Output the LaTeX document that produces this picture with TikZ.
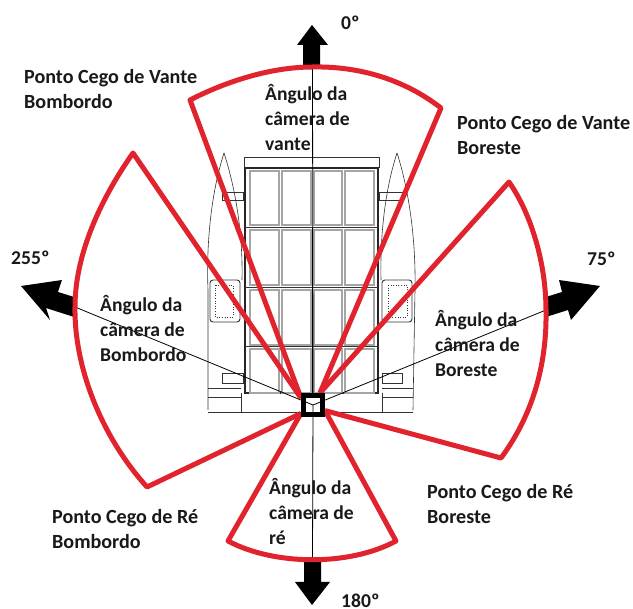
\documentclass[tikz,border=0pt]{standalone}
\usepackage{fontspec}
\setmainfont{Carlito}
\definecolor{redz}{RGB}{225,35,45}
\definecolor{panelgray}{RGB}{165,165,165}
\tikzset{
  sector/.style={draw=redz,line width=5pt,line join=round},
  thinline/.style={draw=black,line width=0.8pt},
  vanline/.style={draw=black!80,line width=0.6pt},
  panel/.style={draw=panelgray,line width=1.5pt},
  arrowshape/.style={fill=black,draw=none},
  lbl/.style={font=\bfseries\fontsize{19.6}{25}\selectfont,align=left,anchor=north west,inner sep=0pt,text=black!90},
  lblwide/.style={lbl,font=\bfseries\fontsize{20.1}{25}\selectfont},
  lblone/.style={font=\bfseries\fontsize{19.6}{25}\selectfont,anchor=north west,inner sep=0pt,text=black!90},
}
\begin{document}
\begin{tikzpicture}[x=1pt,y=-1pt]
\useasboundingbox (0,0) rectangle (633,609);
\fill[white] (0,0) rectangle (633,609);
% van
\draw[vanline] (244,168) -- (244,157) -- (379,157) -- (379,168);
\draw[black!85,line width=1.3pt] (245,168) rectangle (378,393);
\foreach \yy/\hh in {171/225,230/285,290/345,349/393}{
  \foreach \xa/\xb in {250/279,282/311,314/342,345/374}{
    \draw[panel] (\xa,\yy) rectangle (\xb,\hh);
  }
}
\draw[vanline,line width=1pt] (245,228) -- (378,228) (245,287.5) -- (378,287.5) (245,347) -- (378,347);
\draw[black,line width=1.5pt] (312.7,228) -- (312.7,393);
\draw[vanline] (224,153) .. controls (212,190) and (206,240) .. (208,290) -- (208,410);
\draw[vanline] (224,153) .. controls (236,190) and (243,235) .. (242,280);
\draw[vanline] (397,153) .. controls (409,190) and (416,240) .. (415,290) -- (413,410);
\draw[vanline] (397,153) .. controls (385,190) and (380,235) .. (381,280);
\draw[vanline,line width=0.9pt,rounded corners=3pt] (210,280) rectangle (240,322);
\draw[vanline,line width=0.9pt,rounded corners=3pt] (382,280) rectangle (412,322);
\draw[vanline,dotted,line width=0.8pt] (215,285) rectangle (233,317);
\draw[vanline,dotted,line width=0.8pt] (388,285) rectangle (407,317);
\draw[vanline] (222,192) rectangle (243,200) (379,192) rectangle (402,200);
\draw[vanline] (222,373) rectangle (243,383) (382,373) rectangle (402,383);
\draw[vanline] (208,388) -- (241,388) (208,397) -- (241,397) (382,388) -- (413,388) (382,397) -- (413,397);
\draw[vanline] (241,393) -- (241,412) (382,393) -- (382,412) (208,412) -- (413,412);
% arrows
\fill[arrowshape] (312,25) -- (328,45) -- (320,45) -- (320,67) -- (303,67) -- (303,45) -- (297,45) -- cycle;
\fill[arrowshape] (312,605) -- (330,582) -- (321,582) -- (321,560) -- (304,560) -- (304,582) -- (295,582) -- cycle;
\fill[arrowshape] (21,286) -- (62,280) -- (58,292) -- (74,297) -- (74,317) -- (46,308) -- (50,320) -- cycle;
\fill[arrowshape] (600,286) -- (559,280) -- (562,292) -- (546,297) -- (546,317) -- (568,310) -- (571,320) -- cycle;
% camera
\node[draw=black,line width=5pt,minimum size=19pt,inner sep=0pt] (cam) at (313,405) {};
\coordinate (ctop) at (312.5,67);
\coordinate (cbot) at (312.5,560);
\coordinate (cleft) at (75,307);
\coordinate (cright) at (546,310);
% thin lines
\draw[thinline] (ctop) -- (cam.north);
\draw[thinline] (cam.center) -- (cbot);
\draw[thinline] (cleft) -- (cam.center);
\draw[thinline] (cright) -- (cam.center);
% sectors
\coordinate (fl) at (190,100);
\coordinate (fr) at (441,108);
\coordinate (ll) at (133,153);
\coordinate (lb) at (147,487);
\coordinate (rt) at (509,182);
\coordinate (rb) at (501,458);
\coordinate (bl) at (228,541);
\coordinate (br) at (396,541);
\draw[sector] (cam.150) -- (fl) .. controls (225,82) and (270,67) .. (ctop) .. controls (360,66) and (405,80) .. (fr) -- (cam.60);
\draw[sector] (cam.150) -- (ll) .. controls (100,200) and (75,255) .. (cleft) .. controls (74,365) and (100,435) .. (lb) -- (cam.215);
\draw[sector] (cam.60) -- (rt) .. controls (532,215) and (546,265) .. (cright) .. controls (547,360) and (535,412) .. (rb) -- (cam.335);
\draw[sector] (cam.215) -- (bl) .. controls (275,566) and (350,566) .. (br) -- (cam.335);
% camera box on top of the red lines
\node[draw=black,line width=5pt,minimum size=19pt,inner sep=0pt] (camtop) at (cam.center) {};
% labels
\node[lbl] (t0) at (341,16) {0º};
\node[lbl] (t75) at (587,252) {75º};
\node[lbl] (t255) at (11,251) {255º};
\node[lblone] (t180) at (341,594) {180º};
\node[lblwide] (tvb) at (24,69) {Ponto Cego de Vante\\Bombordo};
\node[lblwide] (tvr) at (457,115) {Ponto Cego de Vante\\Boreste};
\node[lblwide] (trb) at (52,509) {Ponto Cego de Ré\\Bombordo};
\node[lblwide] (trr) at (427,484) {Ponto Cego de Ré\\Boreste};
\node[lbl] (ac1) at (265,84) {Ângulo da\\câmera de\\vante};
\node[lbl] (ac2) at (100,295) {Ângulo da\\câmera de\\Bombordo};
\node[lbl] (ac3) at (435,310) {Ângulo da\\câmera de\\Boreste};
\node[lbl] (ac4) at (269,478) {Ângulo da\\câmera de\\ré};
\end{tikzpicture}
\end{document}
